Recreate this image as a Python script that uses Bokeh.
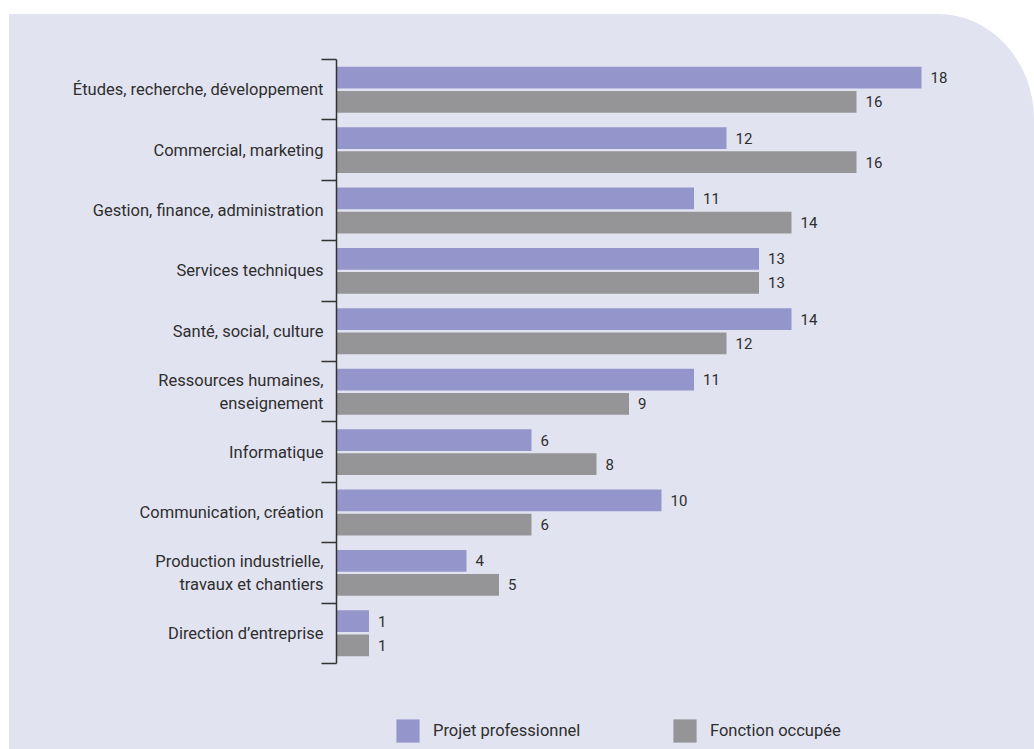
from bokeh.plotting import figure
from bokeh.models import Range1d, FixedTicker, Legend, LegendItem, ColumnDataSource
from bokeh.embed import file_html
from bokeh.resources import INLINE
from bokeh.core.properties import value

categories = [
    "Études, recherche, développement",
    "Commercial, marketing",
    "Gestion, finance, administration",
    "Services techniques",
    "Santé, social, culture",
    "Ressources humaines,\nenseignement",
    "Informatique",
    "Communication, création",
    "Production industrielle,\ntravaux et chantiers",
    "Direction d’entreprise",
]
projet = [18, 12, 11, 13, 14, 11, 6, 10, 4, 1]
fonction = [16, 16, 14, 13, 12, 9, 8, 6, 5, 1]
series_names = ["Projet professionnel", "Fonction occupée"]

BG = "#e2e3f1"
PURPLE = "#9496cb"
GRAY = "#959597"
TEXT = "#2e2e2e"
FONT = "Roboto"

n = len(categories)
centers = [i + 0.5 for i in range(n)]
off = 0.2
bh = 0.36

W, H = 1025, 735
ML = 327
PX_X = 32.5    # pixels per unit on the value axis
PX_Y = 60.4    # pixels per category band
TOP_PAD, BOT_PAD = 45, 86   # pixels above first / below last category band
frame_w = W - ML
x_end = frame_w / PX_X

p = figure(width=W, height=H, output_backend="svg", toolbar_location=None,
           x_range=Range1d(0, x_end),
           y_range=Range1d(n + BOT_PAD / PX_Y, -TOP_PAD / PX_Y),
           x_axis_location=None, y_axis_location="left",
           min_border_left=ML, min_border_top=0, min_border_bottom=0,
           min_border_right=0)
p.margin = (14, 0, 0, 9)
p.styles = {"border-top-right-radius": "96px 105px", "overflow": "hidden",
            "background-color": BG}
p.background_fill_alpha = 0
p.border_fill_alpha = 0
p.outline_line_color = None
p.xgrid.visible = False
p.ygrid.visible = False

src = ColumnDataSource(dict(
    cat=categories,
    y1=[c - off for c in centers],
    y2=[c + off for c in centers],
    projet=projet,
    fonction=fonction,
    lp=[str(v) for v in projet],
    lf=[str(v) for v in fonction],
))

r1 = p.hbar(y="y1", right="projet", left=0, height=bh, source=src,
            fill_color=PURPLE, line_color=None)
r2 = p.hbar(y="y2", right="fonction", left=0, height=bh, source=src,
            fill_color=GRAY, line_color=None)

for yc, xc, lc in (("y1", "projet", "lp"), ("y2", "fonction", "lf")):
    p.text(x=xc, y=yc, text=lc, source=src, x_offset=9,
           text_baseline="middle", text_align="left",
           text_font=value(FONT), text_font_size="15px", text_color=TEXT)

ax = p.yaxis[0]
ax.bounds = (0, n)
ax.ticker = FixedTicker(ticks=centers, minor_ticks=list(range(n + 1)))
ax.major_label_overrides = {c: lab for c, lab in zip(centers, categories)}
ax.major_tick_out = 0
ax.major_tick_in = 0
ax.major_tick_line_color = None
ax.minor_tick_out = 15
ax.minor_tick_in = 0
ax.minor_tick_line_color = "#333333"
ax.minor_tick_line_width = 1.5
ax.axis_line_color = "#333333"
ax.axis_line_width = 1.5
ax.major_label_standoff = -2
ax.major_label_text_font = FONT
ax.major_label_text_font_size = "16.5px"
ax.major_label_text_color = TEXT

lg = Legend(items=[LegendItem(label=series_names[0], renderers=[r1]),
                   LegendItem(label=series_names[1], renderers=[r2])],
            location=(57, 4),
            orientation="horizontal", glyph_width=29, glyph_height=29,
            label_standoff=11, label_width=237, padding=0, margin=0, spacing=0,
            border_line_color=None, background_fill_alpha=0,
            label_text_font=FONT, label_text_font_size="16.5px",
            label_text_color=TEXT, label_height=29, label_text_baseline="middle")
p.add_layout(lg, "center")

open("out.html", "w").write(file_html(p, INLINE))
